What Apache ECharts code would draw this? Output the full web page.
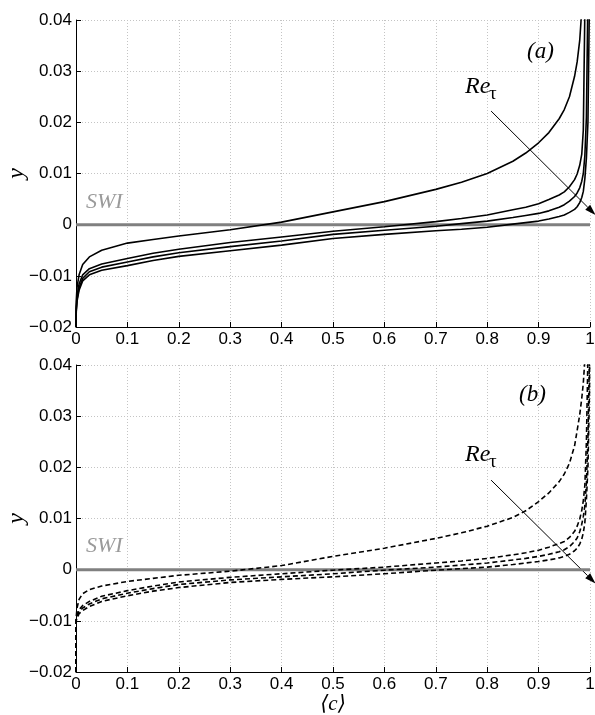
<!DOCTYPE html>
<html lang="en">
<head>
<meta charset="UTF-8">
<title>SWI profiles</title>
<script src="https://cdn.jsdelivr.net/npm/echarts@6/dist/echarts.min.js"></script>
</head>
<body style="margin:0">
<div id="main" style="width:595px;height:715px;"></div>
<script>
// sample points of the mean progress variable <c>
var cPts = [0, 0.0005, 0.002, 0.006, 0.013, 0.026, 0.05, 0.1, 0.15, 0.2, 0.3, 0.4, 0.5, 0.6, 0.7, 0.75, 0.8,
            0.85, 0.875, 0.9, 0.92, 0.94, 0.95, 0.96, 0.97, 0.975, 0.98, 0.984, 0.987, 0.99, 0.993, 0.996, 0.999, 1.0];

// panel (a), solid lines, Re_tau increasing a1 -> a4
var a1 = [-0.02, -0.015, -0.0122, -0.0098, -0.0078, -0.0063, -0.005, -0.0036, -0.0029, -0.0022, -0.001, 0.0005, 0.0025, 0.0045, 0.0069, 0.0083, 0.01,
          0.0124, 0.014, 0.016, 0.018, 0.0207, 0.0225, 0.025, 0.029, 0.0318, 0.036, 0.042, null, null, null, null, null, null];
var a2 = [-0.02, -0.0163, -0.014, -0.0116, -0.0098, -0.0086, -0.0077, -0.0066, -0.0056, -0.0048, -0.0035, -0.0024, -0.0013, -0.0004, 0.0006, 0.0012, 0.0019,
          0.0029, 0.0034, 0.0041, 0.0049, 0.0058, 0.0064, 0.0074, 0.0088, 0.0099, 0.0116, 0.0138, 0.0185, 0.042, null, null, null, null];
var a3 = [-0.02, -0.0167, -0.0146, -0.0124, -0.0105, -0.0092, -0.0083, -0.0073, -0.0063, -0.0055, -0.0043, -0.0032, -0.0019, -0.0011, -0.0003, 0.0002, 0.0007,
          0.0014, 0.0018, 0.0022, 0.0027, 0.0034, 0.0039, 0.0046, 0.0055, 0.0062, 0.0072, 0.0085, 0.01, 0.0135, 0.021, 0.045, null, null];
var a4 = [-0.02, -0.017, -0.015, -0.0128, -0.011, -0.0098, -0.0089, -0.008, -0.007, -0.0062, -0.0051, -0.004, -0.0027, -0.0019, -0.0012, -0.0009, -0.0005,
          0.0001, 0.0004, 0.0007, 0.0011, 0.0016, 0.0019, 0.0024, 0.003, 0.0035, 0.0043, 0.0053, 0.0065, 0.009, 0.013, 0.02, 0.045, null];

// panel (b), dashed lines
var b1 = [-0.02, -0.0092, -0.0075, -0.0058, -0.0047, -0.0039, -0.0032, -0.0023, -0.0017, -0.0011, -0.0003, 0.0008, 0.0026, 0.0042, 0.0061, 0.0072, 0.0085,
          0.0102, 0.0115, 0.0133, 0.015, 0.0172, 0.0187, 0.0208, 0.0242, 0.0272, 0.0303, 0.0335, 0.0365, 0.041, null, null, null, null];
var b2 = [-0.02, -0.0095, -0.0088, -0.0078, -0.007, -0.0062, -0.0052, -0.0041, -0.0032, -0.0024, -0.0015, -0.0008, -0.0001, 0.0005, 0.0013, 0.0017, 0.0022,
          0.0029, 0.0033, 0.0038, 0.0044, 0.0051, 0.0055, 0.0063, 0.0075, 0.0085, 0.0099, 0.0116, 0.0135, 0.0165, 0.025, 0.042, null, null];
var b3 = [-0.02, -0.0097, -0.0092, -0.0082, -0.0075, -0.0067, -0.0057, -0.0046, -0.0037, -0.0029, -0.002, -0.0014, -0.0008, -0.0001, 0.0005, 0.0009, 0.0013,
          0.0019, 0.0022, 0.0026, 0.003, 0.0035, 0.0039, 0.0045, 0.0055, 0.0062, 0.0074, 0.0089, 0.0104, 0.0125, 0.017, 0.026, 0.042, null];
var b4 = [-0.02, -0.0099, -0.0095, -0.0086, -0.008, -0.0072, -0.0062, -0.0051, -0.0042, -0.0035, -0.0025, -0.0019, -0.0014, -0.0008, -0.0001, 0.0002, 0.0005,
          0.001, 0.0013, 0.0016, 0.0019, 0.0023, 0.0026, 0.003, 0.0037, 0.0042, 0.005, 0.006, 0.0072, 0.0092, 0.0137, 0.02, 0.035, 0.06];

// surface wave interface (y = 0)
var swiC = [0, 1];
var swiY = [0, 0];

var serif = "'Liberation Serif', 'DejaVu Serif', serif";
var sans = "'Liberation Sans', Arial, sans-serif";

var chart = echarts.init(document.getElementById('main'));

function pairs(xs, ys) {
    return xs.map(function (c, i) { return [c, ys[i]]; });
}

function xAxisFor(idx, name) {
    return {
        type: 'value', gridIndex: idx, min: 0, max: 1, interval: 0.1,
        name: name, nameLocation: 'middle', nameGap: 18,
        nameTextStyle: { fontFamily: serif, fontStyle: 'italic', fontSize: 21, color: '#000' },
        axisLine: { show: true, onZero: false, lineStyle: { color: '#000', width: 1 } },
        axisTick: { show: true, inside: true, length: 5, lineStyle: { color: '#000' } },
        axisLabel: {
            color: '#000', fontSize: 17, fontFamily: sans, margin: 4,
            formatter: function (v) { return (v === 0 || v === 1) ? String(v) : v.toFixed(1); }
        },
        splitLine: { show: true, lineStyle: { color: '#c4c4c4', type: [1, 2], width: 1 } }
    };
}

function yAxisFor(idx) {
    return {
        type: 'value', gridIndex: idx, min: -0.02, max: 0.04, interval: 0.01,
        axisLine: { show: true, lineStyle: { color: '#000', width: 1 } },
        axisTick: { show: true, inside: true, length: 5, lineStyle: { color: '#000' } },
        axisLabel: {
            color: '#000', fontSize: 17, fontFamily: sans, margin: 4,
            formatter: function (v) {
                if (Math.abs(v) < 1e-9) return '0';
                return (v < 0 ? '\u2212' : '') + Math.abs(v).toFixed(2);
            }
        },
        splitLine: { show: true, lineStyle: { color: '#c4c4c4', type: [1, 2], width: 1 } }
    };
}

function curve(idx, ys, dashed) {
    return {
        type: 'line', xAxisIndex: idx, yAxisIndex: idx,
        data: pairs(cPts, ys), showSymbol: false, symbol: 'none',
        smooth: false, clip: true, z: 3,
        lineStyle: { color: '#000', width: 1.6, type: dashed ? [5, 3] : 'solid' }
    };
}

function swiLine(idx) {
    return {
        type: 'line', xAxisIndex: idx, yAxisIndex: idx,
        data: pairs(swiC, swiY), showSymbol: false, symbol: 'none', z: 2,
        lineStyle: { color: '#808080', width: 3 }
    };
}

var option = {
    animation: false,
    backgroundColor: '#fff',
    grid: [
        { left: 76, top: 20, width: 514, height: 307, outerBoundsMode: 'none', containLabel: false },
        { left: 76, top: 365, width: 514, height: 307, outerBoundsMode: 'none', containLabel: false }
    ],
    xAxis: [xAxisFor(0, ''), xAxisFor(1, '\u27E8c\u27E9')],
    yAxis: [yAxisFor(0), yAxisFor(1)],
    series: [
        swiLine(0), curve(0, a1), curve(0, a2), curve(0, a3), curve(0, a4),
        swiLine(1), curve(1, b1, true), curve(1, b2, true), curve(1, b3, true), curve(1, b4, true)
    ]
};
chart.setOption(option);

// annotations, anchored in data space of each panel
var notes = [
    { grid: 0, tag: '(a)', tagAt: [0.9036, 0.0337], swiAt: [0.0195, 0.00225], reAt: [0.757, 0.0247],
      from: [0.8076, 0.0222], to: [1.0107, 0.0019] },
    { grid: 1, tag: '(b)', tagAt: [0.888, 0.0341], swiAt: [0.0195, 0.0025], reAt: [0.757, 0.0201],
      from: [0.8076, 0.0175], to: [1.0107, -0.0027] }
];

var gfx = [];
notes.forEach(function (n) {
    var p = function (pt) { return chart.convertToPixel({ gridIndex: n.grid }, pt); };
    var tag = p(n.tagAt), swi = p(n.swiAt), re = p(n.reAt), s = p(n.from), e = p(n.to);
    var mid = p([0, 0.01]);
    // y axis title, rotated to read bottom-up
    gfx.push({ type: 'text', x: 17, y: mid[1], rotation: Math.PI / 2, style: {
        text: 'y', font: 'italic 24px ' + serif, fill: '#000', textAlign: 'center', textVerticalAlign: 'middle' } });
    gfx.push({ type: 'text', x: tag[0], y: tag[1], style: {
        text: n.tag, font: 'italic 23px ' + serif, fill: '#000', textAlign: 'center', textVerticalAlign: 'middle' } });
    gfx.push({ type: 'text', x: swi[0], y: swi[1], style: {
        text: 'SWI', font: 'italic 22px ' + serif, fill: '#9a9a9a', textAlign: 'left', textVerticalAlign: 'bottom' } });
    gfx.push({ type: 'text', x: re[0], y: re[1], style: {
        text: 'Re', font: 'italic 24px ' + serif, fill: '#000', textAlign: 'left', textVerticalAlign: 'bottom' } });
    gfx.push({ type: 'text', x: re[0] + 24, y: re[1] + 5, style: {
        text: '\u03C4', font: '19px ' + serif, fill: '#000', textAlign: 'left', textVerticalAlign: 'bottom' } });
    // arrow shaft and head
    var dx = e[0] - s[0], dy = e[1] - s[1], len = Math.sqrt(dx * dx + dy * dy);
    var ux = dx / len, uy = dy / len, hl = 11, hw = 3.5;
    var bx = e[0] - ux * hl, by = e[1] - uy * hl;
    gfx.push({ type: 'line', shape: { x1: s[0], y1: s[1], x2: bx, y2: by }, style: { stroke: '#000', lineWidth: 1 } });
    gfx.push({ type: 'polygon', shape: { points: [
        [e[0], e[1]], [bx - uy * hw, by + ux * hw], [bx + uy * hw, by - ux * hw]] }, style: { fill: '#000' } });
});
chart.setOption({ graphic: gfx });
</script>
</body>
</html>
